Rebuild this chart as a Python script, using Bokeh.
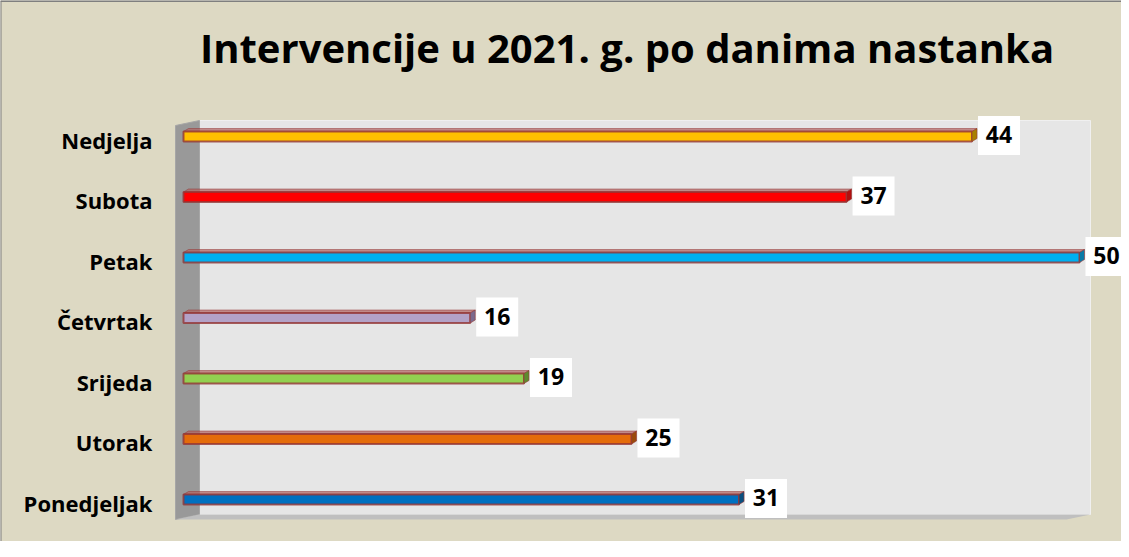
from bokeh.plotting import figure
from bokeh.models import Range1d, Label, Span, ColumnDataSource
from bokeh.core.properties import value
from bokeh.embed import file_html
from bokeh.resources import INLINE

# ---- data (bottom to top) ----
days = ["Ponedjeljak", "Utorak", "Srijeda", "Četvrtak", "Petak", "Subota", "Nedjelja"]
counts = [31, 25, 19, 16, 50, 37, 44]
colors = ["#0070C0", "#E46C0A", "#92D050", "#B3A2C7", "#00B0F0", "#FF0000", "#FFC000"]
caps = ["#0B4F7F", "#9A4A0C", "#5E8A2E", "#7A6A8E", "#0A7AA6", "#B01010", "#A88000"]
title = "Intervencije u 2021. g. po danima nastanka"

W, H = 1121, 541
# page-pixel -> data helpers (canvas origin at page (8, 8))
X0, SX = 183.0, 17.92      # canvas x of value 0, px per unit
Y6, SY = 135.0, 60.5       # canvas y of index 6, px per unit


def px(page_x):
    return (page_x - 8 - X0) / SX


def py(page_y):
    return 6 - (page_y - 8 - Y6) / SY


p = figure(width=W, height=H, output_backend="svg", toolbar_location=None,
           x_axis_location=None, y_axis_location=None, min_border=0,
           x_range=Range1d(-X0 / SX, (W - X0) / SX),
           y_range=Range1d(-(H - Y6 - 6 * SY) / SY, 6 + Y6 / SY))
p.grid.visible = False
p.background_fill_color = "#DDD9C3"
p.border_fill_color = "#DDD9C3"
p.outline_line_color = None

# borders (top/left)
p.add_layout(Span(location=py(8.5), dimension="width", line_color="#7F7F7F", line_width=2))
p.add_layout(Span(location=px(8.0), dimension="height", line_color="#7F7F7F", line_width=2))

# 3D walls
p.patch([px(207), px(1098), px(1098), px(207)], [py(128), py(128), py(522), py(522)],
        fill_color="#E6E6E6", line_color="#F0F0F0", line_width=1)
p.patch([px(183), px(207), px(207), px(183)], [py(133), py(128), py(522), py(527)],
        fill_color="#999999", line_color="#A6A6A6", line_width=1)
p.patch([px(183), px(207), px(1098), px(1074)], [py(527), py(522), py(522), py(527)],
        fill_color="#BFBFBF", line_color=None)

# bars
idx = list(range(len(days)))
hpx = 10.0
h = hpx / SY
dx, dy = 5.0 / SX, 3.0 / SY
off = -1.0 / SY
top_xs, top_ys, cap_xs, cap_ys = [], [], [], []
for i, v in zip(idx, counts):
    yt = i + off + h / 2
    yb = i + off - h / 2
    top_xs.append([0, v, v + dx, dx])
    top_ys.append([yt, yt, yt + dy, yt + dy])
    cap_xs.append([v, v + dx, v + dx, v])
    cap_ys.append([yb, yb + dy, yt + dy, yt])

p.patches(top_xs, top_ys, fill_color="#B0625F", fill_alpha=0.7, line_color="#943634", line_alpha=0.5, line_width=1)
src = ColumnDataSource(dict(y=[i + off for i in idx], right=counts, color=colors, cap=caps))
p.hbar(y="y", left=0, right="right", height=h, fill_color="color", line_color="#943634",
       line_alpha=0.8, line_width=2, source=src)
p.patches(cap_xs, cap_ys, fill_color=caps, line_color="#943634", line_alpha=0.6, line_width=1)

# value labels with white boxes
box_w, box_h = 42, 39
p.rect(x=[v + (6 + box_w / 2) / SX for v in counts], y=idx, width=box_w, height=box_h,
       width_units="screen", height_units="screen", fill_color="white", line_color=None)
p.text(x=[v + (6 + box_w / 2) / SX for v in counts], y=[i + 1 / SY for i in idx],
       text=[str(v) for v in counts], text_align="center", text_baseline="alphabetic",
       text_font=value("Open Sans"), text_font_style="bold", text_font_size="23px", text_color="black")

# category labels
p.text(x=[px(160)] * len(days), y=[i - 4 / SY for i in idx], text=days,
       text_align="right", text_baseline="alphabetic",
       text_font=value("Open Sans"), text_font_style="bold", text_font_size="22px", text_color="black")

# title
p.add_layout(Label(x=px(634.5), y=py(55), text=title, text_align="center", text_baseline="alphabetic",
                   text_font="Open Sans", text_font_style="bold", text_font_size="40px", text_color="black"))

open("out.html", "w").write(file_html(p, INLINE))
